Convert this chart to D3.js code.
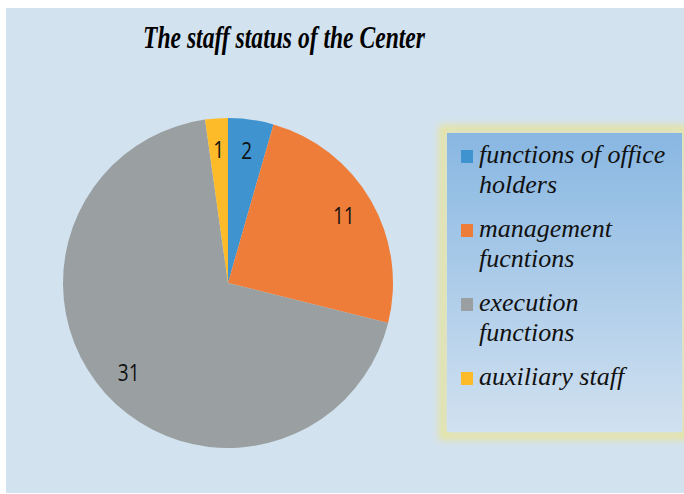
<!DOCTYPE html>
<html><head><meta charset="utf-8">
<script src="https://cdn.jsdelivr.net/npm/d3@7"></script>
<style>html,body{margin:0;padding:0;background:#fff;}svg{display:block;}
.serif{font-family:"Liberation Serif","Times New Roman",Times,serif;}
</style>
</head><body>
<svg id="chart" width="684" height="494"></svg>
<script>
const title = "The staff status of the Center";
const categories = ["functions of office holders", "management fucntions", "execution functions", "auxiliary staff"];
const values = [2, 11, 31, 1];
const colors = ["#3f93cf", "#ee7d3a", "#9aa0a2", "#fdbb2a"];

const svg = d3.select("#chart");
const defs = svg.append("defs");
const grad = defs.append("linearGradient").attr("id","lg").attr("x1",0).attr("y1",0).attr("x2",0).attr("y2",1);
grad.append("stop").attr("offset","0%").attr("stop-color","#88b7e2");
grad.append("stop").attr("offset","100%").attr("stop-color","#d1e1f0");
const blur = defs.append("filter").attr("id","glow").attr("x","-10%").attr("y","-10%").attr("width","120%").attr("height","120%");
blur.append("feGaussianBlur").attr("stdDeviation",3.5);

// background panel
svg.append("rect").attr("x",6).attr("y",8).attr("width",684).attr("height",485).attr("fill","#d3e2ef");

// title
svg.append("text").attr("class","serif").attr("x",284).attr("y",48).attr("text-anchor","middle")
  .attr("font-weight","bold").attr("font-style","italic")
  .attr("font-size",31).attr("textLength",282).attr("lengthAdjust","spacingAndGlyphs")
  .attr("fill","#000").text(title);

// pie
const cx = 228, cy = 283, r = 165;
const pie = d3.pie().sort(null).value(d => d)(values);
const arc = d3.arc().innerRadius(0).outerRadius(r);
const labelArc = d3.arc().innerRadius(r*0.81).outerRadius(r*0.81);
const g = svg.append("g").attr("transform",`translate(${cx},${cy})`);
g.selectAll("path").data(pie).join("path").attr("d",arc).attr("fill",(d,i)=>colors[i]);
g.selectAll("text").data(pie).join("text")
  .attr("transform",d=>{const c=labelArc.centroid(d);return `translate(${c[0]},${c[1]}) scale(1,1.2)`;})
  .attr("text-anchor","middle").attr("dy","0.36em")
  .attr("font-family","Open Sans, Liberation Sans, sans-serif").attr("font-size",19).attr("fill","#111")
  .text(d=>d.data);

// legend box
const lx = 447, ly = 133, lw = 235, lh = 299;
svg.append("rect").attr("x",lx-4).attr("y",ly-4).attr("width",lw+8).attr("height",lh+8)
  .attr("fill","none").attr("stroke","#e6e4a0").attr("stroke-width",8).attr("filter","url(#glow)");
svg.append("rect").attr("x",lx).attr("y",ly).attr("width",lw).attr("height",lh).attr("fill","url(#lg)");

const leg = svg.append("g");
const lineH = 30, itemGap = 14, maxW = 194, fs = 26;
let y = 163;
categories.forEach((cat,i)=>{
  leg.append("rect").attr("x",461).attr("y",y-13).attr("width",12).attr("height",13).attr("fill",colors[i]);
  const words = cat.split(" ");
  let lines = [], cur = "";
  const probe = leg.append("text").attr("class","serif").attr("font-style","italic").attr("font-size",fs);
  words.forEach(w=>{
    const t = cur ? cur+" "+w : w;
    probe.text(t);
    if (probe.node().getComputedTextLength() > maxW && cur) { lines.push(cur); cur = w; } else cur = t;
  });
  lines.push(cur);
  probe.remove();
  lines.forEach((ln,j)=>{
    leg.append("text").attr("class","serif")
      .attr("x",479).attr("y",y + j*lineH)
      .attr("font-style","italic").attr("font-size",fs)
      .attr("fill","#111").text(ln);
  });
  y += lines.length*lineH + itemGap;
});
</script>
</body></html>
